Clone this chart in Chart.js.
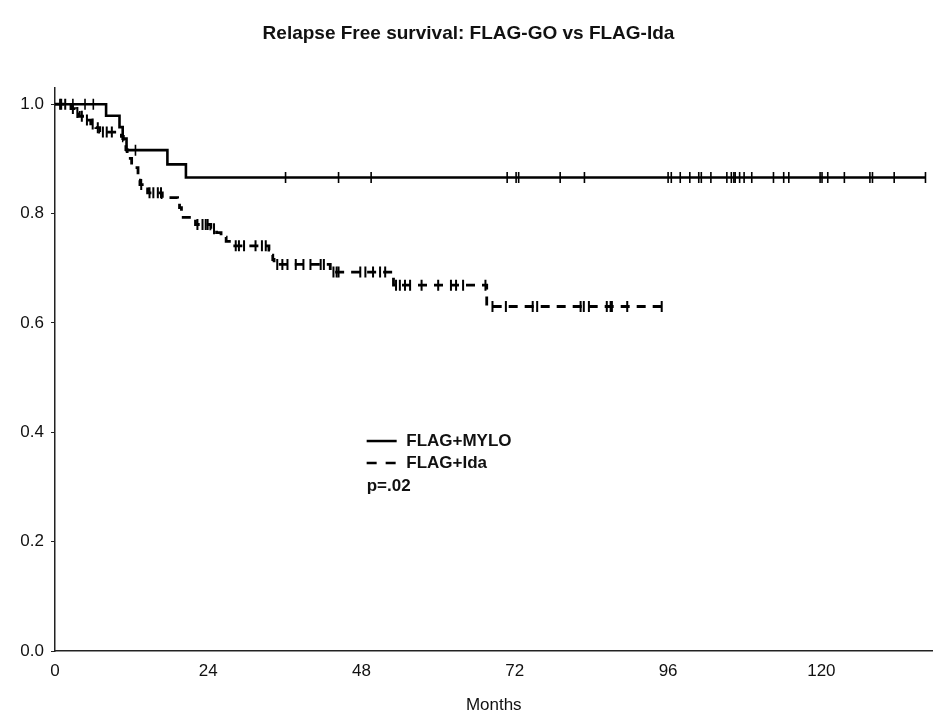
<!DOCTYPE html>
<html>
<head>
<meta charset="utf-8">
<title>Relapse Free survival</title>
<script src="https://cdn.jsdelivr.net/npm/chart.js@4.4.1/dist/chart.umd.min.js"></script>
<style>
html, body { margin: 0; padding: 0; background: #fff; }
#wrap { width: 940px; height: 724px; }
</style>
</head>
<body>
<div id="wrap"><canvas id="rfsChart" width="940" height="724"></canvas></div>
<script>
const xTicks = [0, 24, 48, 72, 96, 120];
const yTicks = [0, 0.2, 0.4, 0.6, 0.8, 1.0];

// FLAG+MYLO (solid): step times (months) and survival after each step
const myloTimes = [0, 8.0, 10.1, 10.6, 11.2, 17.6, 20.5, 136.3];
const myloSurv  = [1.0, 0.979, 0.958, 0.937, 0.916, 0.890, 0.866, 0.866];
const myloCensored = [1.0, 2.8, 4.7, 6.0, 12.6, 36.1, 44.4, 49.5, 70.8, 72.2, 72.6, 79.1, 82.9,
    96.0, 96.5, 97.9, 99.4, 100.8, 101.2, 102.7, 105.2, 105.9, 106.3, 106.5, 107.2, 107.9,
    109.1, 112.5, 114.1, 114.9, 119.8, 120.1, 121.0, 123.6, 127.6, 128.0, 131.4, 136.3];

// FLAG+Ida (dashed)
const idaTimes = [0, 2.5, 3.2, 3.8, 4.6, 5.6, 6.4, 7.0, 10.4, 10.7, 10.9, 11.1, 11.3, 11.5, 12.0,
    13.0, 13.3, 14.0, 14.5, 16.8, 19.2, 19.5, 19.8, 22.0, 24.4, 25.3, 26.0, 26.8, 27.8,
    33.5, 33.8, 34.1, 34.3, 43.1, 53.0, 67.6, 95.0];
const idaSurv = [1.0, 0.992, 0.985, 0.978, 0.971, 0.964, 0.957, 0.949, 0.941, 0.933, 0.925, 0.917, 0.909, 0.901, 0.884,
    0.861, 0.853, 0.845, 0.838, 0.829, 0.820, 0.811, 0.793, 0.780, 0.772, 0.765, 0.757, 0.749, 0.741,
    0.733, 0.724, 0.716, 0.707, 0.693, 0.669, 0.630, 0.630];
const idaCensored = [0.8, 1.6, 2.8, 3.5, 4.2, 5.0, 5.9, 6.7, 7.5, 8.1, 8.9, 13.5, 14.8, 15.4, 16.1, 16.6,
    22.3, 23.1, 23.6, 23.9, 24.9, 28.3, 28.8, 29.6, 31.4, 32.4, 33.0, 34.8, 35.6, 36.4, 37.7, 38.9,
    40.0, 41.6, 42.1, 43.6, 44.1, 44.4, 47.8, 48.6, 49.8, 50.9, 51.7, 53.4, 54.0, 54.8, 55.6, 57.4,
    60.0, 62.0, 62.8, 63.9, 67.4, 68.5, 70.6, 74.8, 75.5, 82.3, 82.8, 83.6, 86.4, 87.0, 87.2, 89.6, 95.0];

const FONT = "'Liberation Sans', Arial, sans-serif";

function toPoints(times, surv) {
    return times.map((t, i) => ({ x: t, y: surv[i] }));
}

function survAt(times, surv, t) {
    let s = surv[0];
    for (let i = 0; i < times.length; i++) {
        if (times[i] <= t) s = surv[i];
    }
    return s;
}

function censorPoints(censored, times, surv) {
    return censored.map(t => ({ x: t, y: survAt(times, surv, t) }));
}

const legendPlugin = {
    id: 'kmLegend',
    afterDatasetsDraw(chart) {
        const { ctx, scales: { x, y } } = chart;
        const x0 = x.getPixelForValue(48.8);
        const x1 = x.getPixelForValue(53.5);
        const xt = x.getPixelForValue(55.0);
        const y1 = y.getPixelForValue(0.384);
        const y2 = y.getPixelForValue(0.344);
        const y3 = y.getPixelForValue(0.302);

        ctx.save();
        ctx.strokeStyle = '#000';
        ctx.lineWidth = 2.5;
        ctx.beginPath();
        ctx.moveTo(x0, y1);
        ctx.lineTo(x1, y1);
        ctx.stroke();

        ctx.setLineDash([10, 9]);
        ctx.beginPath();
        ctx.moveTo(x0, y2);
        ctx.lineTo(x1, y2);
        ctx.stroke();
        ctx.setLineDash([]);

        ctx.fillStyle = '#111';
        ctx.font = "bold 17px " + FONT;
        ctx.textBaseline = 'middle';
        ctx.textAlign = 'left';
        ctx.fillText('FLAG+MYLO', xt, y1);
        ctx.fillText('FLAG+Ida', xt, y2);
        ctx.fillText('p=.02', x0, y3);
        ctx.restore();
    }
};

new Chart(document.getElementById('rfsChart'), {
    type: 'line',
    data: {
        datasets: [
            {
                label: 'FLAG+MYLO',
                data: toPoints(myloTimes, myloSurv),
                stepped: 'before',
                borderColor: '#000',
                borderWidth: 2.6,
                pointRadius: 0,
                fill: false
            },
            {
                label: 'FLAG+Ida',
                data: toPoints(idaTimes, idaSurv),
                stepped: 'before',
                borderColor: '#000',
                borderWidth: 2.8,
                borderDash: [9, 7],
                pointRadius: 0,
                fill: false
            },
            {
                label: 'MYLO censored',
                data: censorPoints(myloCensored, myloTimes, myloSurv),
                showLine: false,
                pointStyle: 'line',
                rotation: 90,
                pointRadius: 5.5,
                pointBorderWidth: 1.6,
                pointBorderColor: '#000'
            },
            {
                label: 'Ida censored',
                data: censorPoints(idaCensored, idaTimes, idaSurv),
                showLine: false,
                pointStyle: 'line',
                rotation: 90,
                pointRadius: 5.5,
                pointBorderWidth: 2,
                pointBorderColor: '#000'
            }
        ]
    },
    options: {
        responsive: false,
        animation: false,
        devicePixelRatio: 1,
        layout: { padding: { left: 0, right: 3, top: 0, bottom: 0 } },
        plugins: {
            legend: { display: false },
            tooltip: { enabled: false },
            title: {
                display: true,
                text: 'Relapse Free survival: FLAG-GO vs FLAG-Ida',
                color: '#111',
                font: { family: FONT, size: 19, weight: 'bold' },
                padding: { top: 22, bottom: 43 }
            }
        },
        scales: {
            x: {
                type: 'linear',
                min: 0,
                max: 137.4,
                afterBuildTicks: scale => { scale.ticks = xTicks.map(v => ({ value: v })); },
                afterFit: scale => { scale.height = 73; },
                grid: { display: true, drawOnChartArea: false, drawTicks: false },
                border: { display: true, color: '#222', width: 1.5 },
                ticks: {
                    color: '#111',
                    padding: 10,
                    maxRotation: 0,
                    font: { family: FONT, size: 17 },
                    callback: v => String(v)
                },
                title: {
                    display: true,
                    text: 'Months',
                    color: '#111',
                    font: { family: FONT, size: 17 },
                    padding: { top: 0, bottom: 8 }
                }
            },
            y: {
                type: 'linear',
                min: 0,
                max: 1.03,
                afterBuildTicks: scale => { scale.ticks = yTicks.map(v => ({ value: v })); },
                afterFit: scale => { scale.width = 55; },
                grid: { display: true, drawOnChartArea: false, drawTicks: true, tickLength: 4, color: '#222' },
                border: { display: true, color: '#222', width: 1.5 },
                ticks: {
                    color: '#111',
                    padding: 7,
                    font: { family: FONT, size: 17 },
                    callback: v => Number(v).toFixed(1)
                }
            }
        }
    },
    plugins: [legendPlugin]
});
</script>
</body>
</html>
